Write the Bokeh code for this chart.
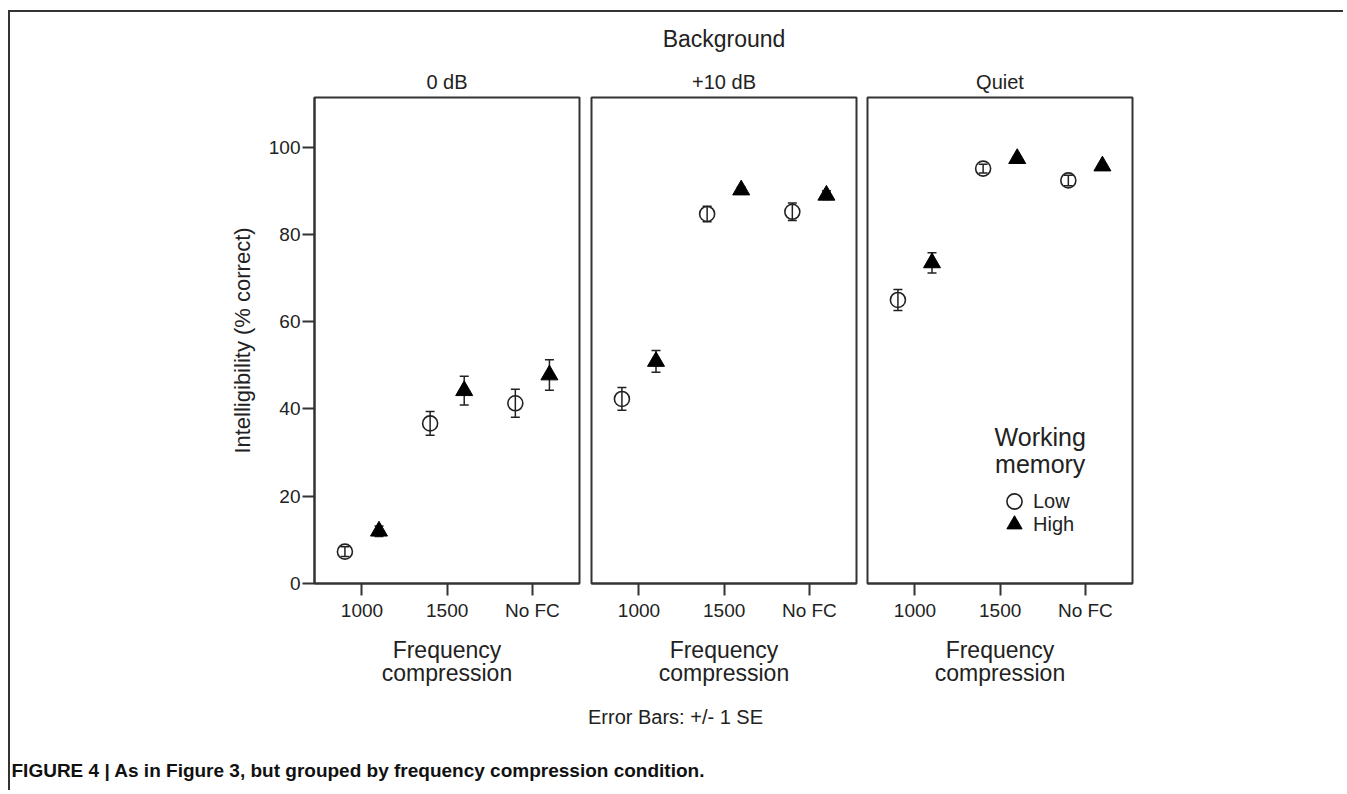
from bokeh.plotting import figure
from bokeh.layouts import row, column
from bokeh.models import (Range1d, FixedTicker, Whisker, TeeHead, ColumnDataSource,
                          Label, Legend, LegendItem, Title)
from bokeh.embed import file_html
from bokeh.resources import INLINE

# ---------------- data ----------------
categories = ["1000", "1500", "No FC"]
backgrounds = ["0 dB", "+10 dB", "Quiet"]
y_ticks = [0, 20, 40, 60, 80, 100]

low_0db = [7.3, 36.7, 41.3]
low_0db_se = [1.1, 2.7, 3.2]
high_0db = [12.0, 44.2, 47.8]
high_0db_se = [1.2, 3.3, 3.5]

low_10db = [42.3, 84.7, 85.2]
low_10db_se = [2.6, 1.8, 2.0]
high_10db = [50.9, 90.2, 89.0]
high_10db_se = [2.5, 0.6, 1.0]

low_quiet = [65.0, 95.1, 92.4]
low_quiet_se = [2.4, 1.0, 1.2]
high_quiet = [73.5, 97.4, 95.7]
high_quiet_se = [2.3, 0.5, 0.5]

group_labels = ["Low", "High"]

# ---------------- style ----------------
FONT = "Liberation Sans"
TXT = "#222222"
LINE = "#333333"
FRAME_W = 265
FRAME_H = 487
TOP = 84
BOTTOM = 109
X_LO, X_HI = 0.443, 3.553
Y_LO, Y_HI = 0, 111.4
OFFSET = 0.2


def panel_title(text):
    return Title(text=text, align="center", text_font=FONT, text_font_size="20px",
                 text_font_style="normal", text_color=TXT, standoff=10)


def make_panel(title, low, low_se, high, high_se, left, right, show_y, legend=False,
               header=None):
    p = figure(width=left + FRAME_W + right, height=TOP + FRAME_H + BOTTOM,
               x_range=Range1d(X_LO, X_HI), y_range=Range1d(Y_LO, Y_HI),
               output_backend="svg", toolbar_location=None,
               min_border_left=left, min_border_right=right,
               min_border_top=TOP, min_border_bottom=BOTTOM,
               y_axis_location="left" if show_y else None)
    p.xgrid.visible = False
    p.ygrid.visible = False
    p.outline_line_color = LINE
    p.outline_line_width = 2
    p.background_fill_color = "white"
    p.border_fill_color = "white"

    if header is None:
        p.title = panel_title(title)
    else:
        # overall header sits above the panel title
        p.title = Title(text=header, align="center", text_font=FONT,
                        text_font_size="23px", text_font_style="normal",
                        text_color=TXT, standoff=23)
        p.add_layout(panel_title(title), "above")

    pos = list(range(1, len(categories) + 1))
    xa = p.xaxis[0]
    xa.ticker = FixedTicker(ticks=pos)
    xa.major_label_overrides = {k: v for k, v in zip(pos, categories)}
    xa.minor_tick_line_color = None
    xa.major_tick_in = 0
    xa.major_tick_out = 12
    xa.major_tick_line_width = 2
    xa.major_tick_line_color = LINE
    xa.axis_line_color = LINE
    xa.axis_line_width = 2
    xa.major_label_standoff = 4
    xa.major_label_text_font = FONT
    xa.major_label_text_font_size = "19px"
    xa.major_label_text_color = TXT
    xa.axis_label = "Frequency\ncompression"
    xa.axis_label_text_font = FONT
    xa.axis_label_text_font_size = "23px"
    xa.axis_label_text_font_style = "normal"
    xa.axis_label_text_color = TXT
    xa.axis_label_text_line_height = 0.92
    xa.axis_label_standoff = 13

    if show_y:
        ya = p.yaxis[0]
        ya.ticker = FixedTicker(ticks=y_ticks)
        ya.minor_tick_line_color = None
        ya.major_tick_in = 0
        ya.major_tick_out = 12
        ya.major_tick_line_width = 2
        ya.major_tick_line_color = LINE
        ya.axis_line_color = LINE
        ya.axis_line_width = 2
        ya.major_label_standoff = 2
        ya.major_label_text_font = FONT
        ya.major_label_text_font_size = "19px"
        ya.major_label_text_color = TXT
        ya.axis_label = "Intelligibility (% correct)"
        ya.axis_label_text_font = FONT
        ya.axis_label_text_font_size = "22px"
        ya.axis_label_text_font_style = "normal"
        ya.axis_label_text_color = TXT
        ya.axis_label_standoff = 11

    low_x = [c - OFFSET for c in pos]
    high_x = [c + OFFSET for c in pos]

    for xs, m, se in ((low_x, low, low_se), (high_x, high, high_se)):
        src = ColumnDataSource(dict(x=xs,
                                    upper=[a + b for a, b in zip(m, se)],
                                    lower=[a - b for a, b in zip(m, se)]))
        p.add_layout(Whisker(source=src, base="x", upper="upper", lower="lower",
                             dimension="height", line_color="#222222", line_width=1.5,
                             upper_head=TeeHead(size=9, line_color="#222222", line_width=1.5),
                             lower_head=TeeHead(size=9, line_color="#222222", line_width=1.5)))

    low_r = p.scatter(low_x, low, marker="circle", size=15, fill_color=None,
                      line_color="#222222", line_width=1.6)
    high_r = p.scatter(high_x, high, marker="triangle", size=17, fill_color="black",
                       line_color="black", line_width=1)

    if legend:
        p.add_layout(Label(x=2.47, y=33.6, text="Working", text_align="center",
                           text_baseline="middle", text_font=FONT, text_font_size="25px",
                           text_color=TXT))
        p.add_layout(Label(x=2.47, y=27.5, text="memory", text_align="center",
                           text_baseline="middle", text_font=FONT, text_font_size="25px",
                           text_color=TXT))
        for lbl, rend, ypx in ((group_labels[0], low_r, 63), (group_labels[1], high_r, 40)):
            lg = Legend(items=[LegendItem(label=lbl, renderers=[rend])],
                        location=(128, ypx), orientation="vertical",
                        glyph_width=38, glyph_height=38, spacing=0,
                        padding=0, margin=0, label_standoff=0,
                        label_text_font=FONT, label_text_font_size="20px",
                        label_text_color=TXT, label_text_baseline="middle",
                        background_fill_alpha=0, border_line_color=None)
            p.add_layout(lg, "center")
    return p


p1 = make_panel(backgrounds[0], low_0db, low_0db_se, high_0db, high_0db_se, 304, 6, True)
p2 = make_panel(backgrounds[1], low_10db, low_10db_se, high_10db, high_10db_se, 6, 5, False,
                header="Background")
p3 = make_panel(backgrounds[2], low_quiet, low_quiet_se, high_quiet, high_quiet_se, 6, 211, False,
                legend=True)

INNER_W = p1.width + p2.width + p3.width
footer = figure(width=INNER_W, height=98, x_range=Range1d(0, INNER_W), y_range=Range1d(0, 98),
                output_backend="svg", toolbar_location=None, min_border=0,
                x_axis_location=None, y_axis_location=None)
footer.outline_line_color = None
footer.xgrid.visible = False
footer.ygrid.visible = False
footer.add_layout(Label(x=665, y=74, text="Error Bars: +/- 1 SE", text_align="center",
                        text_baseline="middle", text_font=FONT, text_font_size="20px",
                        text_color=TXT))
footer.add_layout(Label(x=1, y=20, text="FIGURE 4 | As in Figure 3, but grouped by frequency compression condition.",
                        text_align="left", text_baseline="middle", text_font=FONT,
                        text_font_size="19px", text_font_style="bold", text_color="#111111"))

layout = column(row(p1, p2, p3), footer,
                styles={"border-top": "2px solid #333", "border-left": "2px solid #333",
                        "margin-left": "8px", "margin-top": "10px"})

open("out.html", "w").write(file_html(layout, INLINE))
